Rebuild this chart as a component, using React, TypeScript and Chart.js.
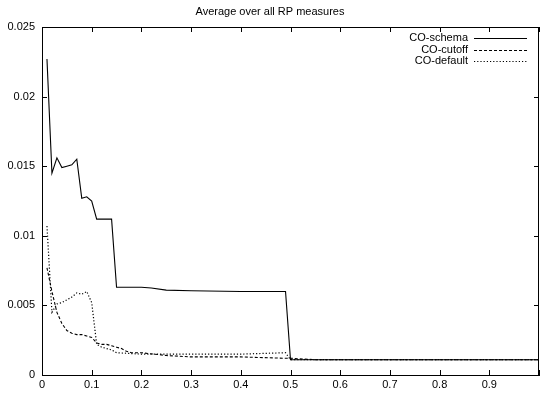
import React, { useEffect, useRef } from "react";
import { Chart, registerables } from "chart.js";

Chart.register(...registerables);

const TITLE = "Average over all RP measures";

const schemaX = [0.01, 0.02, 0.03, 0.04, 0.05, 0.06, 0.07, 0.08, 0.09, 0.1, 0.11, 0.12, 0.13, 0.14, 0.15, 0.16, 0.18, 0.2, 0.22, 0.25, 0.3, 0.4, 0.49, 0.5, 1.0];
const schemaY = [0.0227, 0.0145, 0.0156, 0.0149, 0.015, 0.0151, 0.0155, 0.0127, 0.0128, 0.0125, 0.0112, 0.0112, 0.0112, 0.0112, 0.0063, 0.0063, 0.0063, 0.0063, 0.00625, 0.0061, 0.00605, 0.006, 0.006, 0.0011, 0.0011];

const cutoffX = [0.01, 0.02, 0.03, 0.04, 0.05, 0.06, 0.07, 0.08, 0.09, 0.1, 0.11, 0.12, 0.13, 0.14, 0.15, 0.16, 0.17, 0.18, 0.2, 0.25, 0.3, 0.4, 0.49, 0.5, 0.55, 1.0];
const cutoffY = [0.0077, 0.006, 0.0045, 0.0037, 0.0032, 0.003, 0.0029, 0.0029, 0.0028, 0.0027, 0.0023, 0.0022, 0.0022, 0.0021, 0.002, 0.0019, 0.0017, 0.0016, 0.0016, 0.0014, 0.0013, 0.0013, 0.0012, 0.0012, 0.0011, 0.0011];

const defaultX = [0.01, 0.02, 0.03, 0.04, 0.05, 0.06, 0.07, 0.08, 0.09, 0.1, 0.11, 0.12, 0.13, 0.14, 0.15, 0.2, 0.3, 0.4, 0.49, 0.5, 1.0];
const defaultY = [0.0107, 0.0045, 0.0051, 0.0052, 0.0054, 0.0056, 0.0059, 0.0058, 0.006, 0.0052, 0.0022, 0.002, 0.0019, 0.0018, 0.0016, 0.0015, 0.0015, 0.0015, 0.0016, 0.0011, 0.0011];

const seriesNames = ["CO-schema", "CO-cutoff", "CO-default"];
const xTickValues = [0, 0.1, 0.2, 0.3, 0.4, 0.5, 0.6, 0.7, 0.8, 0.9];
const yTickValues = [0, 0.005, 0.01, 0.015, 0.02, 0.025];

const FONT = "'Liberation Sans', Arial, Helvetica, sans-serif";

function zip(xs: number[], ys: number[]) {
  return xs.map((x, i) => ({ x, y: ys[i] }));
}

const framePlugin = {
  id: "frame",
  afterDraw(chart: any) {
    const { ctx, chartArea } = chart;
    const { left, right, top, bottom } = chartArea;
    const xs = chart.scales.x;
    const ys = chart.scales.y;
    ctx.save();
    ctx.strokeStyle = "#000";
    ctx.lineWidth = 1;
    ctx.setLineDash([]);
    ctx.beginPath();
    ctx.rect(Math.round(left) + 0.5, Math.round(top) + 0.5, Math.round(right - left) - 1, Math.round(bottom - top));
    ctx.stroke();
    const tl = 5;
    ctx.beginPath();
    xTickValues.concat([1]).forEach((v) => {
      const px = Math.round(xs.getPixelForValue(v)) + 0.5;
      ctx.moveTo(px, bottom);
      ctx.lineTo(px, bottom - tl);
      ctx.moveTo(px, top);
      ctx.lineTo(px, top + tl);
    });
    yTickValues.forEach((v) => {
      const py = Math.round(ys.getPixelForValue(v)) + 0.5;
      ctx.moveTo(left, py);
      ctx.lineTo(left + tl, py);
      ctx.moveTo(right, py);
      ctx.lineTo(right - tl, py);
    });
    ctx.stroke();

    // title
    ctx.fillStyle = "#000";
    ctx.font = `11px ${FONT}`;
    ctx.textAlign = "center";
    ctx.textBaseline = "middle";
    ctx.fillText(TITLE, chart.width / 2, 12);

    // legend
    chart.data.datasets.forEach((ds: any, i: number) => {
      const y = 38 + i * 11.5;
      ctx.textAlign = "right";
      ctx.fillStyle = "#000";
      ctx.fillText(ds.label, right - 71, y);
      ctx.beginPath();
      ctx.setLineDash(ds.borderDash || []);
      ctx.strokeStyle = ds.borderColor;
      ctx.lineWidth = 1;
      const ly = Math.round(y) + 0.5;
      ctx.moveTo(right - 65, ly);
      ctx.lineTo(right - 12, ly);
      ctx.stroke();
    });
    ctx.restore();
  },
};

export default function App() {
  const ref = useRef<HTMLCanvasElement | null>(null);
  useEffect(() => {
    if (!ref.current) return;
    const chart = new Chart(ref.current, {
      type: "line",
      data: {
        datasets: [
          { label: seriesNames[0], data: zip(schemaX, schemaY), borderColor: "#000", borderWidth: 1.1, pointRadius: 0, tension: 0, borderDash: [] },
          { label: seriesNames[1], data: zip(cutoffX, cutoffY), borderColor: "#000", borderWidth: 1.1, pointRadius: 0, tension: 0, borderDash: [3, 2] },
          { label: seriesNames[2], data: zip(defaultX, defaultY), borderColor: "#000", borderWidth: 1.2, pointRadius: 0, tension: 0, borderDash: [1.2, 2] },
        ],
      },
      options: {
        animation: false,
        responsive: false,
        maintainAspectRatio: false,
        layout: { padding: { top: 27, right: 1, left: 0, bottom: 0 } },
        plugins: { legend: { display: false }, title: { display: false }, tooltip: { enabled: false } },
        scales: {
          x: {
            type: "linear",
            min: 0,
            max: 1,
            afterFit: (s: any) => { s.height = 20; },
            afterBuildTicks: (s: any) => { s.ticks = xTickValues.map((v) => ({ value: v })); },
            grid: { display: false, drawTicks: false },
            border: { display: true, color: "#000", width: 1 },
            ticks: {
              padding: 3,
              color: "#000",
              font: { size: 11, family: FONT },
              maxRotation: 0,
              autoSkip: false,
              callback: (v: any) => String(Number(Number(v).toFixed(2))),
            },
          },
          y: {
            type: "linear",
            min: 0,
            max: 0.025,
            afterFit: (s: any) => { s.width = 42; },
            afterBuildTicks: (s: any) => { s.ticks = yTickValues.map((v) => ({ value: v })); },
            grid: { display: false, drawTicks: false },
            border: { display: true, color: "#000", width: 1 },
            ticks: {
              padding: 7,
              color: "#000",
              font: { size: 11, family: FONT },
              callback: (v: any) => String(Number(Number(v).toFixed(3))),
            },
          },
        },
      },
      plugins: [framePlugin],
    });
    return () => chart.destroy();
  }, []);
  return (
    <div style={{ position: "absolute", left: 0, top: 0, width: 540, height: 395, background: "#fff" }}>
      <canvas ref={ref} width={540} height={395} style={{ display: "block" }} />
    </div>
  );
}
